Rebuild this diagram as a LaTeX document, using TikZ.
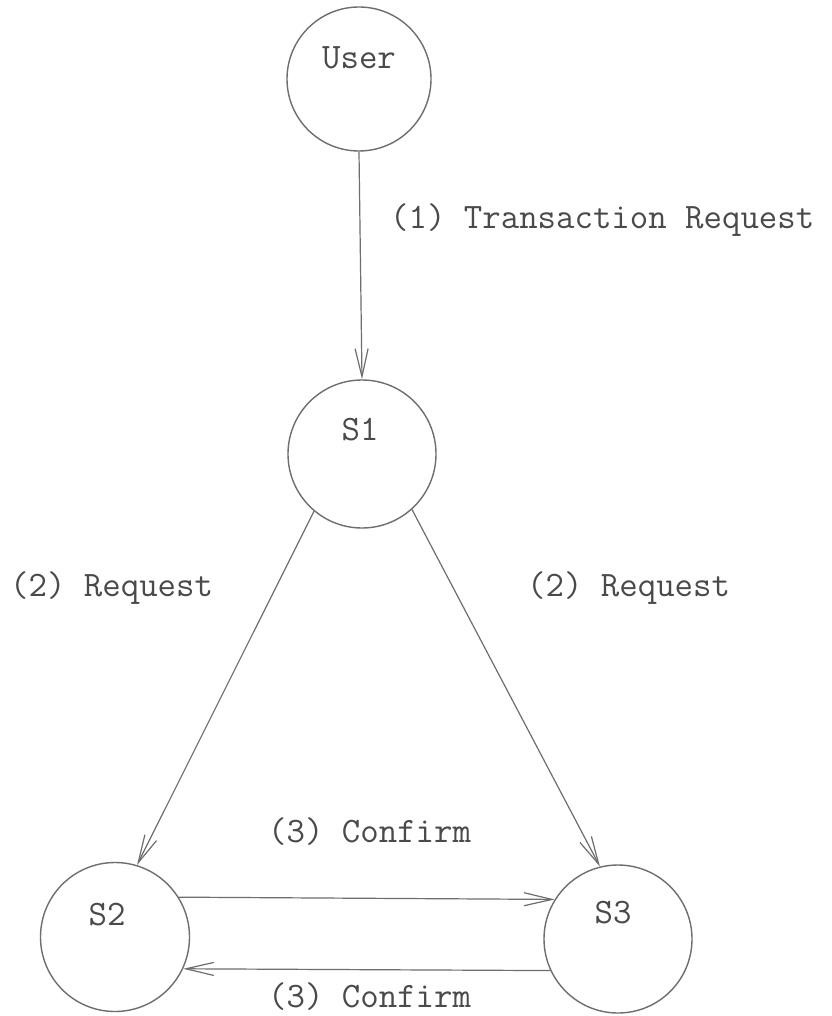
\documentclass[tikz,border=0pt]{standalone}
\usepackage{fontspec}
\usetikzlibrary{arrows.meta}
\definecolor{inkline}{HTML}{6E6E6E}
\definecolor{inktext}{HTML}{4A4A4A}
\begin{document}
\begin{tikzpicture}[x=1pt,y=-1pt,
  state/.style={circle,draw=inkline,line width=1.4pt,inner sep=0pt,minimum size=#1},
  txt/.style={font=\ttfamily\fontsize{35.8}{36}\selectfont,text=inktext,inner sep=0pt},
  conn/.style={draw=inkline,line width=1.2pt,-{Straight Barb[length=28pt,width=13pt,line width=1.2pt]}}
]
\useasboundingbox[fill=white] (0,0) rectangle (831,1016);

\node[state=144pt,label={[txt,yshift=21pt]center:User}] (User) at (359,79) {};
\node[state=148pt,label={[txt,yshift=24pt,xshift=-2pt]center:S1}] (S1) at (362,454) {};
\node[state=149pt,label={[txt,yshift=22pt,xshift=-8pt]center:S2}] (S2) at (115,937) {};
\node[state=148pt,label={[txt,yshift=26pt,xshift=-5pt]center:S3}] (S3) at (618,939) {};

\draw[conn] (User.-90) -- (S1.90);
\draw[conn] (S1.-130) -- (S2.73);
\draw[conn] (S1.-48) -- (S3.104);
\draw[conn] (S2.32) -- (S3.148);
\draw[conn] (S3.-155) -- (S2.-25);

\node[txt,anchor=west] (l1) at (390,220) {(1) Transaction Request};
\node[txt,anchor=west] (l2a) at (10,588) {(2) Request};
\node[txt,anchor=west] (l2b) at (527,588) {(2) Request};
\node[txt,anchor=west] (l3a) at (268,832) {(3) Confirm};
\node[txt,anchor=west] (l3b) at (268,997) {(3) Confirm};
\end{tikzpicture}
\end{document}
